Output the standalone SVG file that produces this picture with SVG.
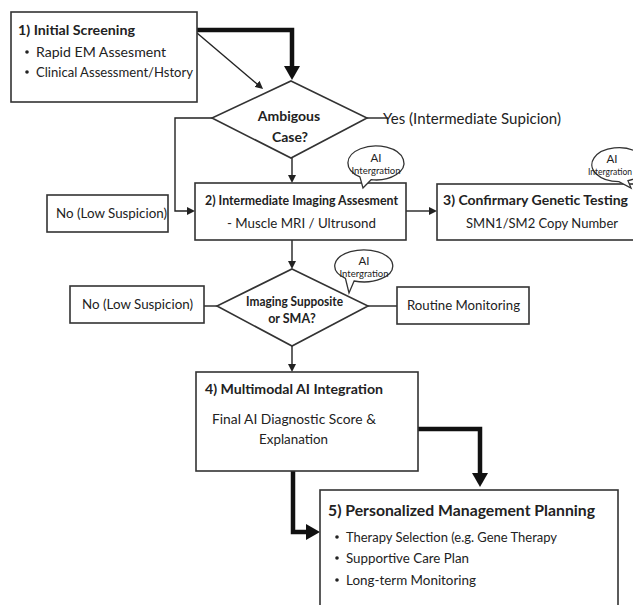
<svg xmlns="http://www.w3.org/2000/svg" width="633" height="605" viewBox="0 0 633 605">
  <style>
    .box { fill: #fff; stroke: #333; stroke-width: 1.6; }
    .bubble { fill: #fff; stroke: #333; stroke-width: 1.3; }
    .ln { fill: none; stroke: #222; stroke-width: 1.4; }
    .thin { fill: none; stroke: #222; stroke-width: 1.4; marker-end: url(#tip); }
    .thick { fill: none; stroke: #111; stroke-width: 4.5; marker-end: url(#bigtip); }
    text { font-family: "Lato", "Open Sans", sans-serif; fill: #222; }
    .h { font-weight: bold; font-size: 14px; }
    .t { font-size: 13.5px; }
    .c { text-anchor: middle; }
    .ai { font-size: 11.5px; text-anchor: middle; }
    .ai2 { font-size: 9.5px; text-anchor: middle; }
  </style>
  <defs>
    <marker id="tip" viewBox="0 0 8 8" refX="1" refY="4" markerWidth="8" markerHeight="8" markerUnits="userSpaceOnUse" orient="auto">
      <path d="M0,0 L8,4 L0,8 Z" fill="#222"/>
    </marker>
    <marker id="bigtip" viewBox="0 0 14 16" refX="2" refY="8" markerWidth="14" markerHeight="16" markerUnits="userSpaceOnUse" orient="auto">
      <path d="M0,0 L14,8 L0,16 Z" fill="#111"/>
    </marker>
  </defs>
  <rect width="633" height="605" fill="#fff"/>

  <!-- connectors -->
  <g id="connectors">
    <path class="thick" d="M197,30 H292 V68"/>
    <path class="thin" d="M197,33 L257.7,84.5"/>
    <path class="thin" d="M292,158 V176"/>
    <path class="thin" d="M213,118 H175 V211 H188"/>
    <path class="ln" d="M367,118 H388"/>
    <path class="thin" d="M406,211 H430"/>
    <path class="thin" d="M292,240 V262"/>
    <path class="ln" d="M204,306 H217"/>
    <path class="ln" d="M368,306 H397"/>
    <path class="thin" d="M292,346 V365"/>
    <path class="thick" d="M418,429 H480 V475"/>
    <path class="thick" d="M293,471 V532 H308"/>
  </g>

  <!-- 1) Initial Screening -->
  <g id="initial-screening">
    <rect class="box" x="11" y="12" width="186" height="90"/>
    <text class="h" x="18" y="35" textLength="117" lengthAdjust="spacingAndGlyphs">1) Initial Screening</text>
    <circle cx="27" cy="52" r="1.8" fill="#222"/>
    <text class="t" x="36" y="57" textLength="130" lengthAdjust="spacingAndGlyphs">Rapid EM Assesment</text>
    <circle cx="27" cy="72" r="1.8" fill="#222"/>
    <text class="t" x="36" y="77" textLength="157" lengthAdjust="spacingAndGlyphs">Clinical Assessment/Hstory</text>
  </g>

  <!-- decision: ambiguous case -->
  <g id="ambiguous-case">
    <polygon class="box" points="291,81 367,118 291,158 212,118"/>
    <text class="h c" x="289" y="121">Ambigous</text>
    <text class="h c" x="290" y="142">Case?</text>
  </g>

  <g id="yes-label">
    <text class="t" x="383" y="124" style="font-size:15px" textLength="178" lengthAdjust="spacingAndGlyphs">Yes (Intermediate Supicion)</text>
  </g>

  <g id="no-low-suspicion-1">
    <rect class="box" x="47" y="195" width="121" height="37"/>
    <text class="t" x="56" y="218" textLength="111" lengthAdjust="spacingAndGlyphs">No (Low Suspicion)</text>
  </g>

  <!-- 2) Intermediate imaging -->
  <g id="intermediate-imaging">
    <rect class="box" x="195" y="183" width="211" height="57"/>
    <text class="h" x="205" y="205" style="font-size:13px" textLength="193" lengthAdjust="spacingAndGlyphs">2) Intermediate Imaging Assesment</text>
    <text class="t" x="227" y="228" textLength="149" lengthAdjust="spacingAndGlyphs">-  Muscle MRI / Ultrusond</text>
  </g>

  <g id="ai-bubble-1">
    <path class="bubble" d="M371.1,179.7 L363,188 L359.9,176.9 A28,17 0 1 1 371.1,179.7 Z"/>
    <text class="ai" x="376" y="162">AI</text>
    <text class="ai2" x="376" y="173.5">Intergration</text>
  </g>

  <!-- 3) Confirmatory genetic testing -->
  <g id="genetic-testing">
    <rect class="box" x="437" y="184" width="200" height="56"/>
    <text class="h" x="443" y="205" textLength="185" lengthAdjust="spacingAndGlyphs">3) Confirmary Genetic Testing</text>
    <text class="t" x="466" y="228" textLength="152" lengthAdjust="spacingAndGlyphs">SMN1/SM2 Copy Number</text>
  </g>

  <g id="ai-bubble-2">
    <path class="bubble" d="M628,180.7 L631,188 L618.9,181.7 A27,17 0 1 1 628,180.7 Z"/>
    <text class="ai" x="612" y="163">AI</text>
    <text class="ai2" x="610" y="174.5" style="font-size:8.5px">Intergration</text>
  </g>

  <!-- decision: imaging suggestive -->
  <g id="imaging-decision">
    <polygon class="box" points="292,269 368,306 292,346 217,306"/>
    <text class="h" x="246" y="306" style="font-size:12.5px" textLength="97" lengthAdjust="spacingAndGlyphs">Imaging Supposite</text>
    <text class="h c" x="292" y="323" style="font-size:12.5px">or SMA?</text>
  </g>

  <g id="ai-bubble-3">
    <path class="bubble" d="M354.1,281 L349,293 L345.4,278.3 A29,16 0 1 1 354.1,281 Z"/>
    <text class="ai" x="364" y="265">AI</text>
    <text class="ai2" x="364" y="276.5">Intergration</text>
  </g>

  <g id="no-low-suspicion-2">
    <rect class="box" x="70" y="286" width="134" height="37"/>
    <text class="t" x="82" y="309" textLength="111" lengthAdjust="spacingAndGlyphs">No (Low Suspicion)</text>
  </g>

  <g id="routine-monitoring">
    <rect class="box" x="397" y="287" width="132" height="37"/>
    <text class="t" x="407" y="310" textLength="113" lengthAdjust="spacingAndGlyphs">Routine Monitoring</text>
  </g>

  <!-- 4) Multimodal AI integration -->
  <g id="multimodal-ai">
    <rect class="box" x="196" y="372" width="222" height="99"/>
    <text class="h" x="205" y="394" textLength="178" lengthAdjust="spacingAndGlyphs">4) Multimodal AI Integration</text>
    <text class="t" x="212" y="424" style="font-size:14px" textLength="164" lengthAdjust="spacingAndGlyphs">Final AI Diagnostic Score &amp;</text>
    <text class="t" x="259" y="444" style="font-size:14px" textLength="69" lengthAdjust="spacingAndGlyphs">Explanation</text>
  </g>

  <!-- 5) Personalized management planning -->
  <g id="management-planning">
    <rect class="box" x="320" y="490" width="298" height="130"/>
    <text class="h" x="328" y="516" style="font-size:16px" textLength="267" lengthAdjust="spacingAndGlyphs">5) Personalized Management Planning</text>
    <circle cx="337" cy="537" r="1.8" fill="#222"/>
    <text class="t" x="346" y="542" textLength="211" lengthAdjust="spacingAndGlyphs">Therapy Selection (e.g. Gene Therapy</text>
    <circle cx="337" cy="558" r="1.8" fill="#222"/>
    <text class="t" x="346" y="563" textLength="123" lengthAdjust="spacingAndGlyphs">Supportive Care Plan</text>
    <circle cx="337" cy="580" r="1.8" fill="#222"/>
    <text class="t" x="346" y="585" textLength="130" lengthAdjust="spacingAndGlyphs">Long-term Monitoring</text>
  </g>
</svg>
